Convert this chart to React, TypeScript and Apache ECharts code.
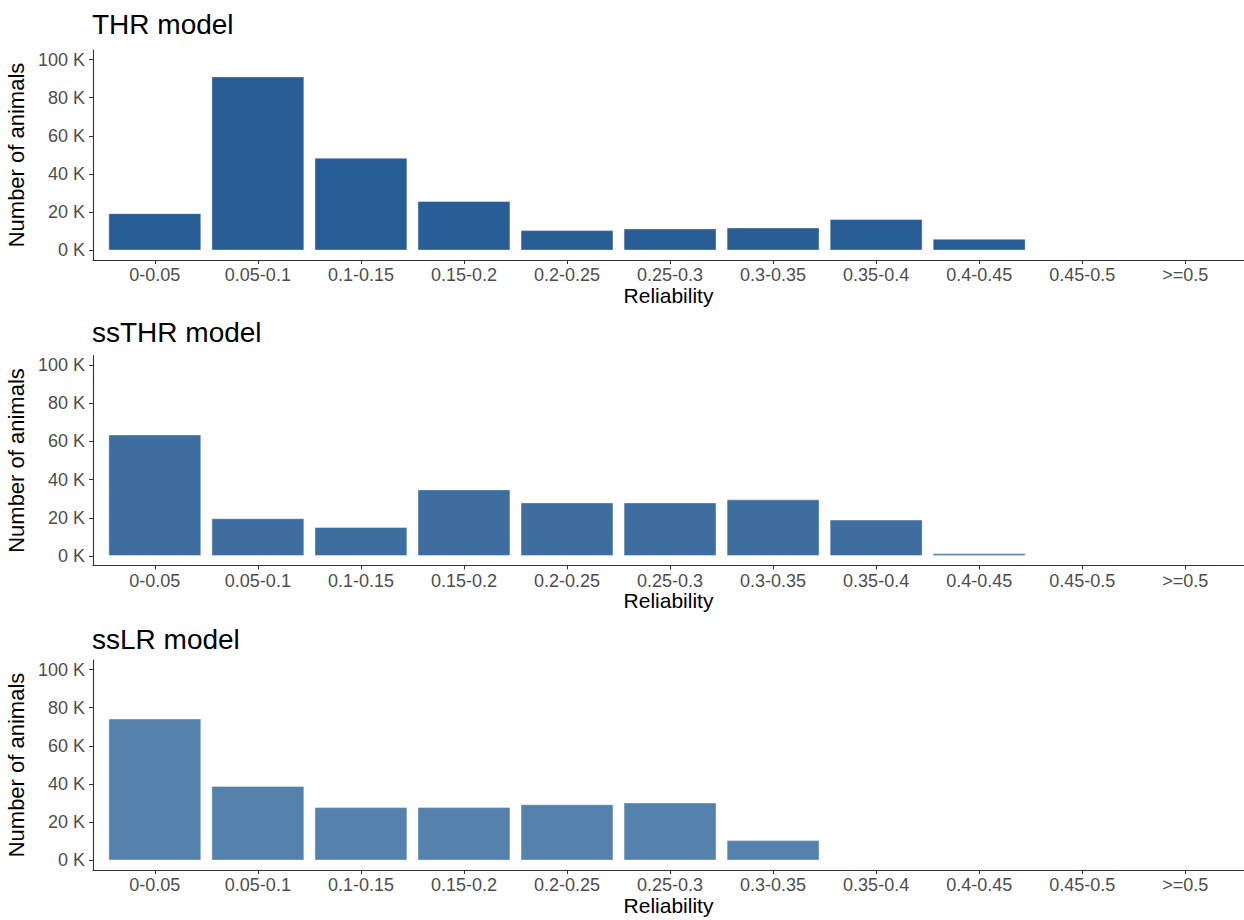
import React, { useEffect, useRef } from "react";
import * as echarts from "echarts";

const categories = ["0-0.05", "0.05-0.1", "0.1-0.15", "0.15-0.2", "0.2-0.25", "0.25-0.3", "0.3-0.35", "0.35-0.4", "0.4-0.45", "0.45-0.5", ">=0.5"];
const panelTitles = ["THR model", "ssTHR model", "ssLR model"];
const thrValues = [19500, 91100, 48500, 25900, 10600, 11500, 12000, 16400, 6100, 0, 0];
const ssthrValues = [63600, 19700, 15100, 34800, 28000, 28000, 29600, 19000, 1300, 0, 200];
const sslrValues = [74300, 39000, 27900, 27900, 29400, 30300, 10600, 300, 0, 0, 0];
const yTicks = [0, 20000, 40000, 60000, 80000, 100000];
const barColors = ["#285d95", "#3d6e9f", "#5581ad"];

const W = 1244;
const H = 920;
const GRID_LEFT = 93;
const GRID_TOPS = [50, 355.5, 660];
const GRID_H = 210;
const TITLE_TOPS = [10, 318.5, 625];
const X_MIN = 0.4;
const X_MAX = 11.57;
const FONT = "'Liberation Sans', Arial, Helvetica, sans-serif";

export default function App() {
  const ref = useRef<HTMLDivElement>(null);
  useEffect(() => {
    document.body.style.margin = "0";
    if (!ref.current) return;
    const chart = echarts.init(ref.current, null, { renderer: "svg" });
    const allValues = [thrValues, ssthrValues, sslrValues];
    const unitPx = (W - GRID_LEFT) / (X_MAX - X_MIN);
    const barWidth = unitPx * 0.9;
    const xCustom = categories.map((_, i) => i + 1);

    const grids = GRID_TOPS.map((t) => ({
      left: GRID_LEFT,
      right: 0,
      top: t,
      height: GRID_H,
      containLabel: false,
      outerBoundsMode: "none",
    }));
    const xAxes = GRID_TOPS.map((_, i) => ({
      type: "value",
      gridIndex: i,
      min: X_MIN,
      max: X_MAX,
      name: "Reliability",
      nameLocation: "middle",
      nameGap: 24,
      nameTextStyle: { color: "#000", fontSize: 21, fontFamily: FONT },
      axisLine: { show: true, onZero: false, lineStyle: { color: "#333", width: 1.1 } },
      axisTick: { show: true, length: 4, customValues: xCustom, lineStyle: { color: "#333" } },
      axisLabel: {
        customValues: xCustom,
        formatter: (v: number) => categories[Math.round(v) - 1] ?? "",
        color: "#4d4d4d",
        fontSize: 18,
        fontFamily: FONT,
        margin: 6,
      },
      splitLine: { show: false },
    }));
    const yAxes = GRID_TOPS.map((_, i) => ({
      type: "value",
      gridIndex: i,
      min: -5000,
      max: 105000,
      name: "Number of animals",
      nameLocation: "middle",
      nameGap: 55,
      nameTextStyle: { color: "#000", fontSize: 22, fontFamily: FONT },
      axisLine: { show: true, onZero: false, lineStyle: { color: "#333", width: 1.1 } },
      axisTick: { show: true, length: 4, customValues: yTicks, lineStyle: { color: "#333" } },
      axisLabel: {
        customValues: yTicks,
        formatter: (v: number) => `${Math.round(v / 1000)} K`,
        color: "#4d4d4d",
        fontSize: 18,
        fontFamily: FONT,
        margin: 8,
      },
      splitLine: { show: false },
    }));
    const series = allValues.map((vals, i) => ({
      type: "bar",
      xAxisIndex: i,
      yAxisIndex: i,
      barWidth,
      data: vals.map((v, j) => [j + 1, v]),
      itemStyle: { color: barColors[i], borderColor: "rgba(255,255,255,0.5)", borderWidth: 0.8 },
    }));
    const titles = panelTitles.map((t, i) => ({
      text: t,
      left: GRID_LEFT - 1,
      top: TITLE_TOPS[i],
      padding: 0,
      textStyle: { color: "#000", fontSize: 28, fontWeight: "normal", fontFamily: FONT },
    }));

    chart.setOption({
      animation: false,
      backgroundColor: "#fff",
      textStyle: { fontFamily: FONT },
      title: titles,
      grid: grids,
      xAxis: xAxes,
      yAxis: yAxes,
      series,
    });
    return () => chart.dispose();
  }, []);
  return <div ref={ref} style={{ width: W, height: H }} />;
}
